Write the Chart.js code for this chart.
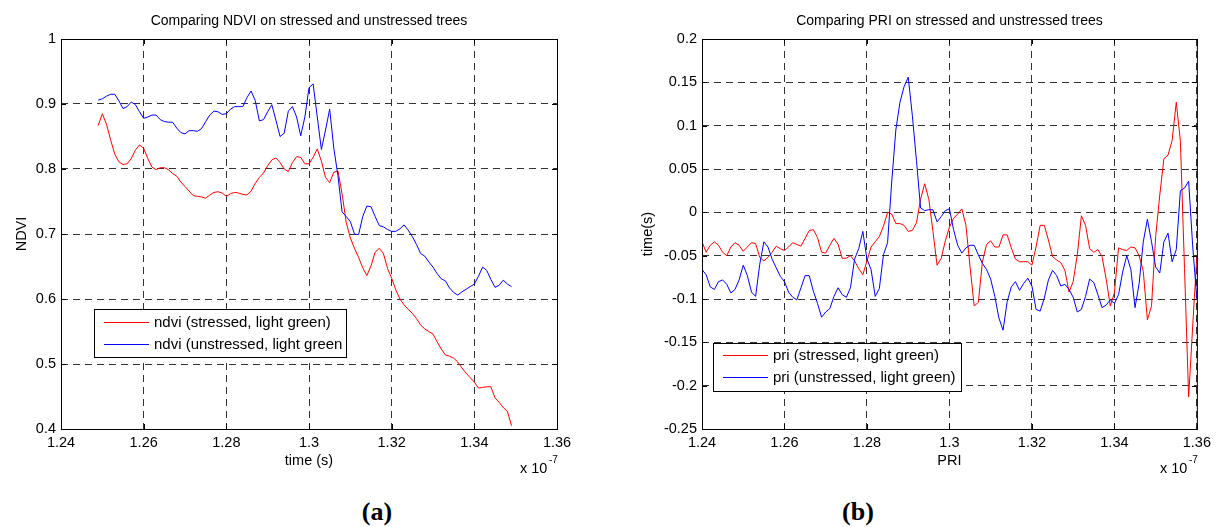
<!DOCTYPE html>
<html lang="en">
<head>
<meta charset="UTF-8">
<title>Comparing NDVI and PRI on stressed and unstressed trees</title>
<script src="https://cdn.jsdelivr.net/npm/chart.js"></script>
<style>
    body { margin: 0; background: #fff; }
    .page { position: relative; width: 1216px; height: 527px; overflow: hidden; }
    .panel { position: absolute; top: 0; }
    .caption {
        position: absolute; top: 497px; width: 80px; margin-left: -40px;
        text-align: center; font: bold 26px "Liberation Serif", "Times New Roman", serif;
    }
</style>
</head>
<body>
<div class="page">
    <canvas id="ndviChart" class="panel" width="608" height="480" style="left:0"></canvas>
    <canvas id="priChart" class="panel" width="608" height="480" style="left:608px"></canvas>
    <div class="caption" style="left:377px">(a)</div>
    <div class="caption" style="left:858px">(b)</div>
</div>

<script>
const FONT = '"Liberation Sans", Arial, sans-serif';

// x values are in units of 1e-7 s (the axis shows "x 10^-7")
const ndviTime = [
    1.249, 1.250, 1.251, 1.252, 1.253, 1.254, 1.255, 1.256, 1.257, 1.258,
    1.259, 1.260, 1.261, 1.262, 1.263, 1.264, 1.265, 1.266, 1.267, 1.268,
    1.269, 1.270, 1.271, 1.272, 1.273, 1.274, 1.275, 1.276, 1.277, 1.278,
    1.279, 1.280, 1.281, 1.282, 1.283, 1.284, 1.285, 1.286, 1.287, 1.288,
    1.289, 1.290, 1.291, 1.292, 1.293, 1.294, 1.295, 1.296, 1.297, 1.298,
    1.299, 1.300, 1.301, 1.302, 1.303, 1.304, 1.305, 1.306, 1.307, 1.308,
    1.309, 1.310, 1.311, 1.312, 1.313, 1.314, 1.315, 1.316, 1.317, 1.318,
    1.319, 1.320, 1.321, 1.322, 1.323, 1.324, 1.325, 1.326, 1.327, 1.328,
    1.329, 1.330, 1.331, 1.332, 1.333, 1.334, 1.335, 1.336, 1.337, 1.338,
    1.339, 1.340, 1.341, 1.342, 1.343, 1.344, 1.345, 1.346, 1.347, 1.348,
    1.349
];
const ndviStressed = [
    0.867, 0.885, 0.869, 0.845, 0.823, 0.811, 0.807, 0.808, 0.816, 0.829,
    0.837, 0.832, 0.816, 0.803, 0.799, 0.802, 0.802, 0.799, 0.793, 0.789,
    0.780, 0.773, 0.766, 0.759, 0.758, 0.757, 0.755, 0.760, 0.764, 0.765,
    0.763, 0.758, 0.762, 0.764, 0.763, 0.761, 0.760, 0.766, 0.778, 0.787,
    0.794, 0.805, 0.814, 0.817, 0.810, 0.800, 0.796, 0.810, 0.819, 0.818,
    0.808, 0.808, 0.818, 0.831, 0.812, 0.787, 0.779, 0.795, 0.797, 0.762,
    0.718, 0.694, 0.678, 0.664, 0.648, 0.636, 0.651, 0.672, 0.678, 0.670,
    0.647, 0.632, 0.614, 0.600, 0.591, 0.584, 0.578, 0.570, 0.560, 0.554,
    0.550, 0.546, 0.534, 0.523, 0.514, 0.512, 0.509, 0.503, 0.494, 0.486,
    0.479, 0.472, 0.463, 0.464, 0.465, 0.465, 0.448, 0.441, 0.433, 0.427,
    0.405
];
const ndviUnstressed = [
    0.906, 0.908, 0.912, 0.915, 0.915, 0.905, 0.893, 0.896, 0.903, 0.899,
    0.888, 0.878, 0.880, 0.883, 0.883, 0.876, 0.873, 0.872, 0.872, 0.863,
    0.856, 0.854, 0.859, 0.859, 0.858, 0.862, 0.873, 0.883, 0.889, 0.888,
    0.884, 0.885, 0.892, 0.896, 0.896, 0.896, 0.910, 0.920, 0.905, 0.874,
    0.876, 0.888, 0.899, 0.875, 0.850, 0.855, 0.889, 0.896, 0.880, 0.851,
    0.880, 0.925, 0.931, 0.880, 0.830, 0.860, 0.892, 0.832, 0.790, 0.734,
    0.727, 0.719, 0.700, 0.699, 0.727, 0.743, 0.742, 0.727, 0.713, 0.711,
    0.707, 0.704, 0.704, 0.708, 0.714, 0.706, 0.696, 0.684, 0.670, 0.666,
    0.657, 0.649, 0.639, 0.631, 0.628, 0.617, 0.610, 0.606, 0.611, 0.615,
    0.619, 0.623, 0.635, 0.649, 0.644, 0.630, 0.618, 0.621, 0.629, 0.623,
    0.619
];

const priTime = [
    1.240, 1.241, 1.242, 1.243, 1.244, 1.245, 1.246, 1.247, 1.248, 1.249,
    1.250, 1.251, 1.252, 1.253, 1.254, 1.255, 1.256, 1.257, 1.258, 1.259,
    1.260, 1.261, 1.262, 1.263, 1.264, 1.265, 1.266, 1.267, 1.268, 1.269,
    1.270, 1.271, 1.272, 1.273, 1.274, 1.275, 1.276, 1.277, 1.278, 1.279,
    1.280, 1.281, 1.282, 1.283, 1.284, 1.285, 1.286, 1.287, 1.288, 1.289,
    1.290, 1.291, 1.292, 1.293, 1.294, 1.295, 1.296, 1.297, 1.298, 1.299,
    1.300, 1.301, 1.302, 1.303, 1.304, 1.305, 1.306, 1.307, 1.308, 1.309,
    1.310, 1.311, 1.312, 1.313, 1.314, 1.315, 1.316, 1.317, 1.318, 1.319,
    1.320, 1.321, 1.322, 1.323, 1.324, 1.325, 1.326, 1.327, 1.328, 1.329,
    1.330, 1.331, 1.332, 1.333, 1.334, 1.335, 1.336, 1.337, 1.338, 1.339,
    1.340, 1.341, 1.342, 1.343, 1.344, 1.345, 1.346, 1.347, 1.348, 1.349,
    1.350, 1.351, 1.352, 1.353, 1.354, 1.355, 1.356, 1.357, 1.358, 1.359,
    1.360
];
const priStressed = [
    -0.034, -0.046, -0.038, -0.034, -0.038, -0.046, -0.050, -0.040, -0.035, -0.038,
    -0.045, -0.040, -0.035, -0.036, -0.052, -0.056, -0.052, -0.046, -0.039, -0.042,
    -0.044, -0.040, -0.035, -0.037, -0.039, -0.030, -0.021, -0.020, -0.029, -0.046,
    -0.047, -0.038, -0.030, -0.037, -0.053, -0.053, -0.050, -0.056, -0.065, -0.072,
    -0.056, -0.040, -0.034, -0.028, -0.016, 0.000, -0.002, -0.013, -0.013, -0.015,
    -0.022, -0.021, -0.012, 0.015, 0.033, 0.015, -0.022, -0.061, -0.053, -0.033,
    -0.017, -0.007, -0.002, 0.004, -0.015, -0.063, -0.108, -0.104, -0.057, -0.037,
    -0.033, -0.040, -0.040, -0.026, -0.026, -0.041, -0.054, -0.057, -0.057, -0.057,
    -0.061, -0.040, -0.015, -0.015, -0.032, -0.051, -0.055, -0.058, -0.067, -0.092,
    -0.080, -0.049, -0.004, -0.015, -0.042, -0.046, -0.043, -0.051, -0.077, -0.108,
    -0.093, -0.041, -0.043, -0.044, -0.040, -0.041, -0.050, -0.068, -0.124, -0.108,
    -0.028, 0.020, 0.062, 0.066, 0.083, 0.127, 0.082, -0.065, -0.213, -0.130,
    -0.050
];
const priUnstressed = [
    -0.066, -0.072, -0.086, -0.089, -0.080, -0.078, -0.083, -0.093, -0.089, -0.078,
    -0.061, -0.073, -0.092, -0.097, -0.060, -0.034, -0.040, -0.054, -0.064, -0.074,
    -0.080, -0.092, -0.098, -0.101, -0.087, -0.073, -0.073, -0.091, -0.105, -0.121,
    -0.115, -0.111, -0.097, -0.087, -0.095, -0.098, -0.087, -0.054, -0.042, -0.022,
    -0.054, -0.066, -0.097, -0.088, -0.049, -0.035, 0.035, 0.095, 0.127, 0.145,
    0.156, 0.112, 0.060, 0.005, 0.002, 0.003, 0.003, -0.011, -0.005, 0.002,
    0.004, -0.020, -0.038, -0.047, -0.041, -0.038, -0.038, -0.049, -0.059, -0.066,
    -0.077, -0.097, -0.122, -0.136, -0.103, -0.086, -0.080, -0.090, -0.082, -0.076,
    -0.085, -0.112, -0.114, -0.099, -0.078, -0.067, -0.073, -0.085, -0.083, -0.089,
    -0.098, -0.115, -0.112, -0.097, -0.077, -0.081, -0.095, -0.110, -0.107, -0.101,
    -0.105, -0.095, -0.069, -0.050, -0.066, -0.110, -0.082, -0.034, -0.008, -0.034,
    -0.063, -0.070, -0.034, -0.024, -0.057, -0.043, 0.025, 0.028, 0.036, -0.040,
    -0.100
];

const timeTicks = [1.24, 1.26, 1.28, 1.30, 1.32, 1.34, 1.36];
const ndviTicks = [0.4, 0.5, 0.6, 0.7, 0.8, 0.9, 1.0];
const priTicks = [-0.25, -0.2, -0.15, -0.1, -0.05, 0, 0.05, 0.1, 0.15, 0.2];

function toPoints(xs, ys) {
    return xs.map((x, i) => ({ x: x, y: ys[i] }));
}

// MATLAB style labels: 1.3 not 1.30, 1 not 1.0
function fmt(v) {
    return String(parseFloat(Number(v).toFixed(3)));
}

// box, inward ticks, titles, exponent and legend, drawn the MATLAB way
const matlabFrame = {
    id: 'matlabFrame',
    afterDraw(chart, args, o) {
        const { ctx, chartArea: a, scales: { x, y } } = chart;
        ctx.save();
        ctx.strokeStyle = '#000';
        ctx.lineWidth = 1;
        ctx.strokeRect(a.left + 0.5, a.top + 0.5, a.right - a.left, a.bottom - a.top);

        ctx.beginPath();
        x.ticks.forEach(t => {
            const px = Math.round(x.getPixelForValue(t.value)) + 0.5;
            ctx.moveTo(px, a.bottom); ctx.lineTo(px, a.bottom - 5);
            ctx.moveTo(px, a.top); ctx.lineTo(px, a.top + 5);
        });
        y.ticks.forEach(t => {
            const py = Math.round(y.getPixelForValue(t.value)) + 0.5;
            ctx.moveTo(a.left, py); ctx.lineTo(a.left + 5, py);
            ctx.moveTo(a.right, py); ctx.lineTo(a.right - 5, py);
        });
        ctx.stroke();

        ctx.fillStyle = '#000';
        ctx.textBaseline = 'middle';
        ctx.textAlign = 'center';
        ctx.font = '14px ' + FONT;
        ctx.fillText(o.title, (a.left + a.right) / 2, 21);
        ctx.font = '14.5px ' + FONT;
        ctx.fillText(o.xLabel, (a.left + a.right) / 2, 461);

        ctx.save();
        ctx.translate(o.yLabelX, (a.top + a.bottom) / 2);
        ctx.rotate(-Math.PI / 2);
        ctx.fillText(o.yLabel, 0, 0);
        ctx.restore();

        ctx.textAlign = 'left';
        ctx.fillText('x 10', a.right - 37, 469);
        ctx.font = '10px ' + FONT;
        ctx.fillText('-7', a.right - 8, 460);

        // legend box
        const L = o.legend;
        ctx.fillStyle = '#fff';
        ctx.fillRect(L.x, L.y, L.w, L.h);
        ctx.strokeStyle = '#000';
        ctx.strokeRect(L.x + 0.5, L.y + 0.5, L.w, L.h);
        ctx.font = '15px ' + FONT;
        L.items.forEach((it, i) => {
            const ly = Math.round(L.y + L.first + i * L.gap) + 0.5;
            ctx.beginPath();
            ctx.strokeStyle = it.color;
            ctx.moveTo(L.x + 10, ly);
            ctx.lineTo(L.x + 55, ly);
            ctx.stroke();
            ctx.fillStyle = '#000';
            ctx.fillText(it.text, L.x + 60, ly);
        });
        ctx.restore();
    }
};

function axisOptions(min, max, ticks, size, horizontal) {
    return {
        type: 'linear',
        min: min,
        max: max,
        afterBuildTicks: s => { s.ticks = ticks.map(v => ({ value: v })); },
        afterFit: s => { if (horizontal) s.height = size; else s.width = size; },
        grid: { color: '#333', lineWidth: 1, drawTicks: false },
        border: { display: false, dash: [7, 5] },
        ticks: {
            color: '#000',
            font: { family: FONT, size: 14.5 },
            padding: 5,
            maxRotation: 0,
            autoSkip: false,
            callback: v => fmt(v)
        }
    };
}

function makeChart(id, series, yMin, yMax, yTicks, leftWidth, rightPad, frame) {
    return new Chart(document.getElementById(id), {
        type: 'line',
        data: {
            datasets: series.map(s => ({
                label: s.label,
                data: s.data,
                borderColor: s.color,
                borderWidth: 1,
                pointRadius: 0,
                tension: 0,
                fill: false,
                order: s.order
            }))
        },
        options: {
            responsive: false,
            animation: false,
            layout: { padding: { left: 0, top: 39, right: rightPad, bottom: 0 } },
            plugins: {
                legend: { display: false },
                tooltip: { enabled: false },
                matlabFrame: frame
            },
            scales: {
                x: axisOptions(1.24, 1.36, timeTicks, 51, true),
                y: axisOptions(yMin, yMax, yTicks, leftWidth, false)
            }
        },
        plugins: [matlabFrame]
    });
}

makeChart('ndviChart', [
    { label: 'ndvi (stressed, light green)', data: toPoints(ndviTime, ndviStressed), color: '#ff0000', order: 1 },
    { label: 'ndvi (unstressed, light green', data: toPoints(ndviTime, ndviUnstressed), color: '#0000ff', order: 0 }
], 0.4, 1.0, ndviTicks, 61, 51, {
    title: 'Comparing NDVI on stressed and unstressed trees',
    xLabel: 'time (s)',
    yLabel: 'NDVI',
    yLabelX: 22,
    legend: {
        x: 94, y: 309, w: 252, h: 48, first: 13, gap: 22,
        items: [
            { text: 'ndvi (stressed, light green)', color: '#ff0000' },
            { text: 'ndvi (unstressed, light green', color: '#0000ff' }
        ]
    }
});

makeChart('priChart', [
    { label: 'pri (stressed, light green)', data: toPoints(priTime, priStressed), color: '#ff0000', order: 1 },
    { label: 'pri (unstressed, light green)', data: toPoints(priTime, priUnstressed), color: '#0000ff', order: 0 }
], -0.25, 0.2, priTicks, 94, 18, {
    title: 'Comparing PRI on stressed and unstressed trees',
    xLabel: 'PRI',
    yLabel: 'time(s)',
    yLabelX: 40,
    legend: {
        x: 105, y: 343, w: 248, h: 48, first: 12, gap: 22,
        items: [
            { text: 'pri (stressed, light green)', color: '#ff0000' },
            { text: 'pri (unstressed, light green)', color: '#0000ff' }
        ]
    }
});
</script>
</body>
</html>
